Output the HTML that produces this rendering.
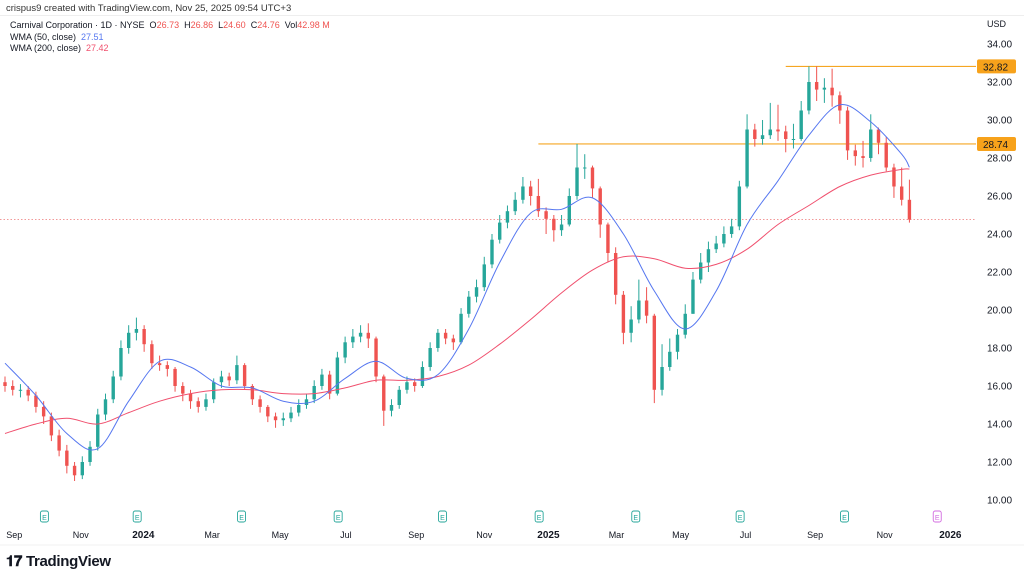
<!DOCTYPE html>
<html><head><meta charset="utf-8">
<style>
body{margin:0;background:#fff;font-family:"Liberation Sans",sans-serif;}
#wrap{position:relative;width:1024px;height:579px;overflow:hidden;background:#fff}
.t{position:absolute;white-space:nowrap;color:#131722}
</style></head><body>
<div id="wrap">
<div class="t" style="left:6px;top:3px;font-size:9.5px;color:#333">crispus9 created with TradingView.com, Nov 25, 2025 09:54 UTC+3</div>
<div style="position:absolute;left:0;top:15px;width:1024px;border-top:1px solid #eee"></div>
<div class="t" style="left:10px;top:20px;font-size:9px">Carnival Corporation · 1D · NYSE&nbsp; O<span style="color:#ef5350">26.73</span>&nbsp; H<span style="color:#ef5350">26.86</span>&nbsp; L<span style="color:#ef5350">24.60</span>&nbsp; C<span style="color:#ef5350">24.76</span>&nbsp; Vol<span style="color:#ef5350">42.98 M</span></div>
<div class="t" style="left:10px;top:32px;font-size:9px">WMA (50, close)&nbsp; <span style="color:#5677f0">27.51</span></div>
<div class="t" style="left:10px;top:43px;font-size:9px">WMA (200, close)&nbsp; <span style="color:#f0506e">27.42</span></div>
<svg id="chart" width="1024" height="579" style="position:absolute;left:0;top:0"></svg>
<div class="t" style="left:6px;top:553px;font-size:15px;font-weight:bold;letter-spacing:-0.3px">𝟏𝟕 TradingView</div>
</div>
<script>
const closes=[16.0,15.8,15.8,15.5,14.9,14.4,13.4,12.6,11.8,11.3,12.0,12.8,14.5,15.3,16.5,18.0,18.8,19.0,18.2,17.2,17.1,16.9,16.0,15.6,15.2,14.9,15.3,16.2,16.5,16.3,17.1,16.0,15.3,14.9,14.4,14.2,14.3,14.6,15.0,15.3,16.0,16.6,15.6,17.5,18.3,18.6,18.8,18.5,16.5,14.7,15.0,15.8,16.2,16.0,17.0,18.0,18.8,18.5,18.3,19.8,20.7,21.2,22.4,23.7,24.6,25.2,25.8,26.5,26.0,25.2,24.8,24.2,24.5,26.0,27.5,27.5,26.4,24.5,23.0,20.8,18.8,19.5,20.5,19.7,15.8,17.0,17.8,18.7,19.8,21.6,22.5,23.2,23.5,24.0,24.4,26.5,29.5,29.0,29.2,29.5,29.4,29.0,29.0,30.5,32.0,31.6,31.7,31.3,30.5,28.4,28.1,28.0,29.5,28.8,27.5,26.5,25.8,24.76];
const highs=[16.5,16.3,16.1,16.0,15.7,15.2,14.6,13.7,12.9,12.0,12.3,13.1,14.8,15.6,16.8,18.4,19.2,19.6,19.2,18.4,17.6,17.3,17.0,16.2,15.8,15.4,15.6,16.4,16.8,16.7,17.6,17.2,16.1,15.5,15.0,14.6,14.6,14.9,15.3,15.6,16.3,16.9,16.8,17.8,18.6,19.0,19.2,19.3,18.6,16.6,15.3,16.0,16.5,16.4,17.3,18.3,19.0,19.0,18.7,20.1,21.0,21.6,22.8,24.0,25.0,25.5,26.2,27.0,26.8,26.9,25.4,25.0,25.0,26.4,28.74,28.2,27.6,26.5,24.6,23.3,21.0,20.2,21.6,21.2,19.8,18.2,18.5,19.0,20.3,22.0,23.0,23.6,23.9,24.4,24.8,26.8,30.3,29.8,30.0,30.9,30.8,29.7,29.8,31.0,32.82,32.82,32.2,32.7,31.5,30.7,28.7,28.9,30.3,29.6,29.1,27.7,27.5,26.86];
const lows=[15.7,15.5,15.4,15.2,14.6,14.0,13.1,12.3,11.4,11.0,11.1,11.8,12.6,14.2,15.1,16.3,17.7,18.4,17.8,16.9,16.8,16.5,15.7,15.2,14.8,14.6,14.7,15.1,15.9,16.0,16.1,15.8,15.0,14.6,14.1,13.8,13.9,14.1,14.4,14.8,15.1,15.8,15.3,15.5,17.2,18.0,18.3,18.0,16.2,13.9,14.4,14.8,15.6,15.7,15.9,16.8,17.8,18.2,17.9,18.2,19.6,20.4,21.0,22.2,23.5,24.3,25.0,25.6,25.5,24.9,24.0,23.6,23.9,24.4,25.8,26.9,25.9,23.8,22.5,20.3,18.2,18.3,19.3,19.3,15.1,15.5,16.8,17.4,18.5,19.8,21.4,22.0,23.0,23.3,23.8,24.2,26.4,28.6,28.7,29.0,28.9,28.3,28.5,28.9,30.3,31.0,30.9,30.7,29.8,27.9,27.6,27.5,27.8,28.2,27.3,25.9,25.5,24.6];
const firstOpen=16.2;
const maWeeks=[0,4,8,12,16,20,24,28,32,36,40,44,48,52,56,60,64,68,72,76,80,84,88,92,96,100,104,108,112,116,117];
const wma50=[17.2,15.5,13.5,12.7,15.2,17.3,17.0,16.0,15.9,15.2,15.2,16.4,17.3,16.4,16.6,19.0,22.5,25.1,25.3,25.9,24.0,21.0,19.0,21.0,24.5,26.8,29.2,30.8,29.9,28.2,27.51];
const wma200=[13.5,14.0,14.3,14.0,14.6,15.2,15.6,15.8,15.8,15.6,15.6,15.9,16.3,16.3,16.5,17.1,18.2,19.5,20.9,22.1,22.8,22.7,22.2,22.4,23.2,24.5,25.5,26.5,27.1,27.4,27.42];
const priceTicks=[34,32,30,28,26,24,22,20,18,16,14,12,10];
const levels=[32.82,28.74];
const levelStartWeek=[101,69];
const lastPrice=24.76;
const monthLabels=["Sep","Nov","2024","Mar","May","Jul","Sep","Nov","2025","Mar","May","Jul","Sep","Nov","2026"];
const monthWeeks=[1.2,9.8,17.9,26.8,35.6,44.1,53.2,62,70.3,79.1,87.4,95.8,104.8,113.8,122.3];
const earningsWeeks=[5.1,17.1,30.6,43.1,56.6,69.1,81.6,95.1,108.6,120.6];

const svg=document.getElementById('chart');
const NS='http://www.w3.org/2000/svg';
const y=p=>44+(34-p)*19;
const x=i=>5+i*7.73;
function mk(tag,attrs){const e=document.createElementNS(NS,tag);for(const k in attrs)e.setAttribute(k,attrs[k]);svg.appendChild(e);return e;}

priceTicks.forEach(p=>{
  const t=mk('text',{x:987,y:y(p)+3.5,'font-size':10,fill:'#131722','font-family':'Liberation Sans, sans-serif'});
  t.textContent=p.toFixed(2);
  
  
});
const usd=mk('text',{x:987,y:27,'font-size':9,fill:'#131722','font-family':'Liberation Sans, sans-serif'});
usd.textContent='USD';



const lp=mk('line',{x1:0,x2:975,y1:y(lastPrice),y2:y(lastPrice),stroke:'#f08a8a','stroke-width':0.8,'stroke-dasharray':'1.5,2'});



levels.forEach((v,k)=>{
  const l=mk('line',{x1:x(levelStartWeek[k]),x2:976,y1:y(v),y2:y(v),stroke:'#f5a623','stroke-width':1.2});
  
  
  const r=mk('rect',{x:977,y:y(v)-7,width:39,height:14,rx:2,fill:'#f7a21b'});
  
  
  const t=mk('text',{x:983,y:y(v)+4,'font-size':10,fill:'#131722','font-family':'Liberation Sans, sans-serif'});
  t.textContent=v.toFixed(2);
  
  
});

closes.forEach((c,i)=>{
  const o=i===0?firstOpen:closes[i-1];
  const up=c>=o;const col=up?'#26a69a':'#ef5350';
  const cx=x(i);
  const w=mk('line',{x1:cx,x2:cx,y1:y(highs[i]),y2:y(lows[i]),stroke:col,'stroke-width':1});
  
  
  const top=y(Math.max(o,c)),bot=y(Math.min(o,c));
  const b=mk('rect',{x:cx-1.7,y:top,width:3.4,height:Math.max(1,bot-top),fill:col});
  
  
});

function smooth(vals){
  const pts=vals.map((v,k)=>[x(maWeeks[k]),y(v)]);
  let d='M'+pts[0][0]+','+pts[0][1];
  for(let k=0;k<pts.length-1;k++){
    const p0=pts[Math.max(0,k-1)],p1=pts[k],p2=pts[k+1],p3=pts[Math.min(pts.length-1,k+2)];
    const c1=[p1[0]+(p2[0]-p0[0])/6,p1[1]+(p2[1]-p0[1])/6];
    const c2=[p2[0]-(p3[0]-p1[0])/6,p2[1]-(p3[1]-p1[1])/6];
    d+=' C'+c1+' '+c2+' '+p2;
  }
  return d;
}
const m200=mk('path',{d:smooth(wma200),fill:'none',stroke:'#f0506e','stroke-width':1});


const m50=mk('path',{d:smooth(wma50),fill:'none',stroke:'#5677f0','stroke-width':1});



monthLabels.forEach((m,k)=>{
  const bold=/^20/.test(m);
  const t=mk('text',{x:x(monthWeeks[k]),y:538,'font-size':bold?10:9,'font-weight':bold?'bold':'normal',fill:'#131722','text-anchor':'middle','font-family':'Liberation Sans, sans-serif'});
  t.textContent=m;
  
  
});
earningsWeeks.forEach((w,k)=>{
  const last=k===earningsWeeks.length-1;
  const col=last?'#d36be0':'#26a69a';
  const g=mk('rect',{x:x(w)-4,y:511,width:8,height:11,rx:2,fill:'#fff',stroke:col,'stroke-width':0.9});
  
  
  const t=mk('text',{x:x(w),y:520,'font-size':7,fill:col,'text-anchor':'middle','font-family':'Liberation Sans, sans-serif'});
  t.textContent='E';
  
  
});
const bl=mk('line',{x1:0,x2:1024,y1:545,y2:545,stroke:'#f0f0f0','stroke-width':1});


</script>
</body></html>
